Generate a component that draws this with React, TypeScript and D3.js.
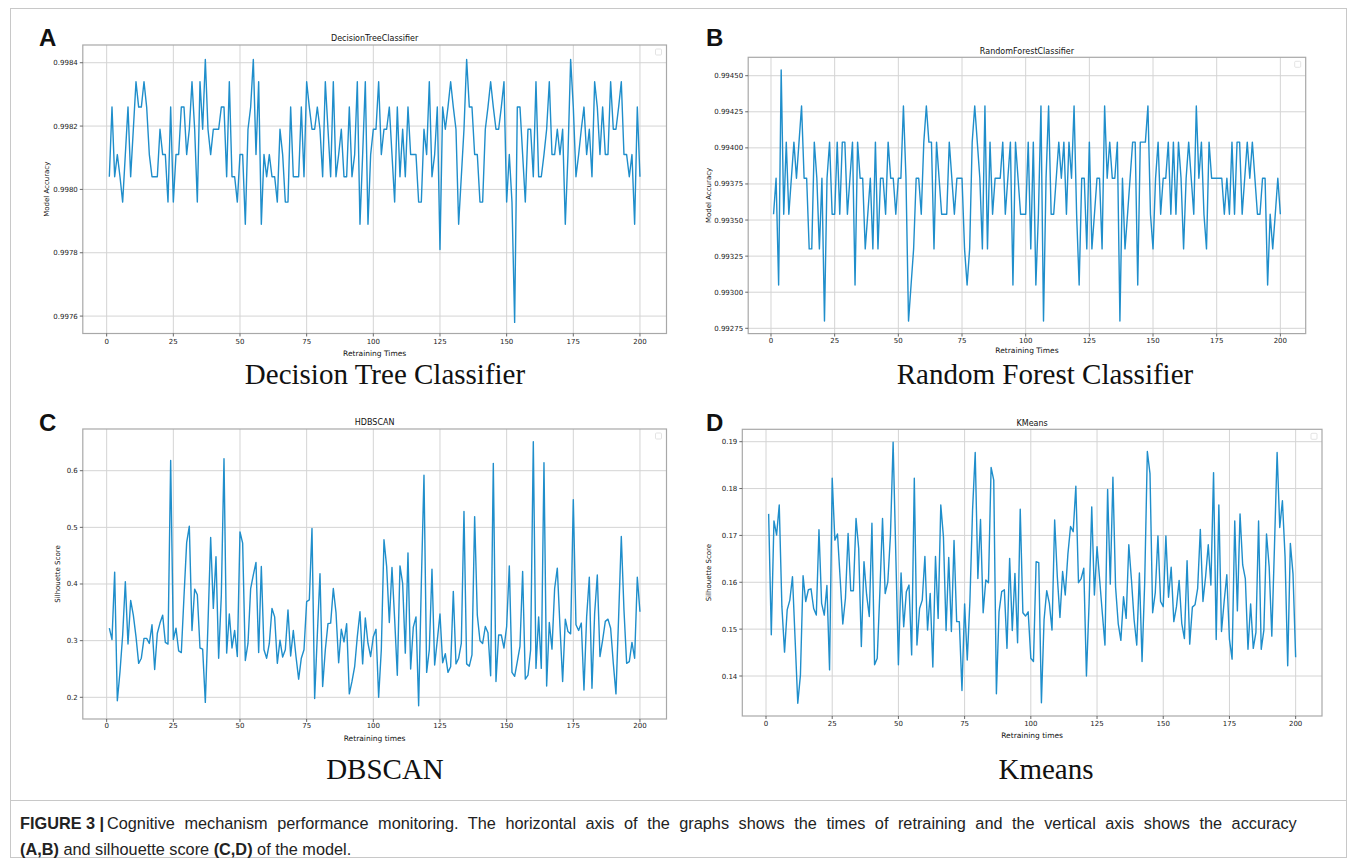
import * as d3 from "d3";

// retraining index (x) shared by all four panels
const retrainRuns = d3.range(1, 201);
const xTicks = [0, 25, 50, 75, 100, 125, 150, 175, 200];

// (A) DecisionTreeClassifier accuracy
const dtAccuracy = [
  0.99804, 0.99826, 0.99804, 0.99811, 0.99804, 0.99796, 0.99811, 0.99826, 0.99804, 0.99819,
  0.99834, 0.99826, 0.99826, 0.99834, 0.99826, 0.99811, 0.99804, 0.99804, 0.99804, 0.99819,
  0.99811, 0.99811, 0.99796, 0.99826, 0.99796, 0.99811, 0.99811, 0.99826, 0.99826, 0.99811,
  0.99819, 0.99834, 0.99819, 0.99796, 0.99834, 0.99819, 0.99841, 0.99819, 0.99811, 0.99819,
  0.99819, 0.99819, 0.99826, 0.99826, 0.99804, 0.99834, 0.99804, 0.99804, 0.99796, 0.99811,
  0.99811, 0.99789, 0.99819, 0.99826, 0.99841, 0.99811, 0.99834, 0.99789, 0.99811, 0.99804,
  0.99811, 0.99804, 0.99804, 0.99796, 0.99819, 0.99811, 0.99796, 0.99796, 0.99826, 0.99804,
  0.99804, 0.99804, 0.99826, 0.99804, 0.99834, 0.99826, 0.99819, 0.99819, 0.99826, 0.99819,
  0.99804, 0.99834, 0.99819, 0.99804, 0.99834, 0.99804, 0.99811, 0.99819, 0.99804, 0.99804,
  0.99826, 0.99804, 0.99811, 0.99834, 0.99789, 0.99811, 0.99834, 0.99789, 0.99811, 0.99819,
  0.99819, 0.99834, 0.99811, 0.99819, 0.99819, 0.99826, 0.99811, 0.99796, 0.99826, 0.99804,
  0.99819, 0.99804, 0.99826, 0.99811, 0.99811, 0.99811, 0.99796, 0.99796, 0.99819, 0.99811,
  0.99834, 0.99804, 0.99811, 0.99826, 0.99781, 0.99826, 0.99819, 0.99826, 0.99834, 0.99826,
  0.99819, 0.99789, 0.99804, 0.99819, 0.99841, 0.99826, 0.99826, 0.99811, 0.99811, 0.99796,
  0.99796, 0.99819, 0.99826, 0.99834, 0.99826, 0.99819, 0.99819, 0.99826, 0.99834, 0.99796,
  0.99811, 0.99796, 0.99758, 0.99826, 0.99826, 0.99811, 0.99796, 0.99819, 0.99819, 0.99804,
  0.99834, 0.99804, 0.99804, 0.99811, 0.99819, 0.99834, 0.99811, 0.99811, 0.99819, 0.99811,
  0.99819, 0.99789, 0.99811, 0.99841, 0.99826, 0.99804, 0.99811, 0.99819, 0.99826, 0.99811,
  0.99819, 0.99804, 0.99834, 0.99826, 0.99811, 0.99826, 0.99811, 0.99811, 0.99834, 0.99819,
  0.99819, 0.99826, 0.99834, 0.99811, 0.99811, 0.99804, 0.99811, 0.99789, 0.99826, 0.99804,
];

// (B) RandomForestClassifier accuracy
const rfAccuracy = [
  0.99354, 0.99379, 0.99305, 0.99454, 0.99354, 0.99404, 0.99354, 0.99379, 0.99404, 0.99379,
  0.99404, 0.99429, 0.99379, 0.99379, 0.9933, 0.9933, 0.99404, 0.99379, 0.9933, 0.99379,
  0.9928, 0.99379, 0.99404, 0.99354, 0.99354, 0.99404, 0.99354, 0.99404, 0.99404, 0.99354,
  0.99379, 0.99404, 0.99305, 0.99404, 0.99379, 0.99379, 0.9933, 0.99354, 0.99379, 0.9933,
  0.99404, 0.9933, 0.99379, 0.99379, 0.99354, 0.99404, 0.99379, 0.99379, 0.99354, 0.99379,
  0.99379, 0.99429, 0.99379, 0.9928, 0.99305, 0.9933, 0.99379, 0.99379, 0.99354, 0.99404,
  0.99429, 0.99404, 0.99404, 0.9933, 0.99404, 0.99379, 0.99354, 0.99354, 0.99354, 0.99404,
  0.99379, 0.99354, 0.99379, 0.99379, 0.99379, 0.9933, 0.99305, 0.9933, 0.99404, 0.99429,
  0.99404, 0.99379, 0.9933, 0.99429, 0.9933, 0.99404, 0.99354, 0.99379, 0.99379, 0.99379,
  0.99404, 0.99354, 0.99379, 0.99404, 0.99305, 0.99404, 0.99379, 0.99354, 0.99354, 0.99354,
  0.99404, 0.9933, 0.99404, 0.99305, 0.99354, 0.99429, 0.9928, 0.99379, 0.99429, 0.99354,
  0.99354, 0.99379, 0.99404, 0.99379, 0.99404, 0.99354, 0.99404, 0.99379, 0.99429, 0.99354,
  0.99305, 0.99379, 0.99379, 0.9933, 0.99404, 0.9933, 0.99354, 0.99379, 0.99379, 0.9933,
  0.99429, 0.99379, 0.99404, 0.99379, 0.99379, 0.99404, 0.9928, 0.99379, 0.9933, 0.99354,
  0.99379, 0.99404, 0.99404, 0.99305, 0.99404, 0.99404, 0.99404, 0.99429, 0.99354, 0.9933,
  0.99379, 0.99404, 0.99354, 0.99379, 0.99379, 0.99404, 0.99354, 0.99404, 0.99354, 0.99404,
  0.99379, 0.9933, 0.99379, 0.99404, 0.99379, 0.99354, 0.99429, 0.99379, 0.99404, 0.99354,
  0.9933, 0.99404, 0.99379, 0.99379, 0.99379, 0.99379, 0.99379, 0.99354, 0.99379, 0.99354,
  0.99404, 0.99354, 0.99404, 0.99404, 0.99354, 0.99379, 0.99404, 0.99379, 0.99404, 0.99379,
  0.99354, 0.99354, 0.99379, 0.99379, 0.99305, 0.99354, 0.9933, 0.99354, 0.99379, 0.99354,
];

// (C) HDBSCAN silhouette score
const hdbscanScore = [
  0.322, 0.302, 0.421, 0.194, 0.245, 0.31, 0.404, 0.294, 0.371, 0.345,
  0.307, 0.26, 0.269, 0.304, 0.304, 0.295, 0.328, 0.249, 0.313, 0.331,
  0.345, 0.297, 0.294, 0.618, 0.302, 0.322, 0.282, 0.279, 0.378, 0.473,
  0.502, 0.318, 0.391, 0.381, 0.287, 0.285, 0.191, 0.33, 0.482, 0.357,
  0.448, 0.269, 0.38, 0.621, 0.278, 0.347, 0.287, 0.318, 0.272, 0.492,
  0.472, 0.265, 0.295, 0.392, 0.416, 0.438, 0.279, 0.431, 0.284, 0.269,
  0.295, 0.357, 0.342, 0.26, 0.301, 0.271, 0.284, 0.354, 0.273, 0.318,
  0.272, 0.232, 0.269, 0.284, 0.369, 0.372, 0.498, 0.198, 0.31, 0.418,
  0.219, 0.284, 0.33, 0.331, 0.392, 0.35, 0.261, 0.32, 0.298, 0.33,
  0.206, 0.228, 0.254, 0.307, 0.351, 0.259, 0.34, 0.295, 0.272, 0.307,
  0.32, 0.2, 0.284, 0.478, 0.431, 0.332, 0.429, 0.338, 0.239, 0.432,
  0.401, 0.278, 0.455, 0.25, 0.324, 0.342, 0.185, 0.4, 0.592, 0.244,
  0.284, 0.426, 0.257, 0.301, 0.347, 0.261, 0.277, 0.244, 0.254, 0.387,
  0.259, 0.269, 0.295, 0.528, 0.259, 0.255, 0.275, 0.519, 0.345, 0.3,
  0.295, 0.325, 0.314, 0.238, 0.613, 0.228, 0.31, 0.31, 0.287, 0.325,
  0.432, 0.244, 0.237, 0.263, 0.29, 0.422, 0.232, 0.239, 0.284, 0.651,
  0.251, 0.342, 0.251, 0.614, 0.22, 0.332, 0.285, 0.392, 0.428, 0.325,
  0.228, 0.338, 0.316, 0.312, 0.549, 0.328, 0.318, 0.331, 0.213, 0.342,
  0.412, 0.216, 0.348, 0.416, 0.272, 0.301, 0.334, 0.338, 0.322, 0.26,
  0.206, 0.342, 0.484, 0.354, 0.26, 0.263, 0.297, 0.269, 0.412, 0.351,
];

// (D) KMeans silhouette score
const kmeansScore = [
  0.1746, 0.1488, 0.1731, 0.1701, 0.1765, 0.1548, 0.1451, 0.1541, 0.1562, 0.1612,
  0.1477, 0.1342, 0.1402, 0.1614, 0.1559, 0.1584, 0.1586, 0.1544, 0.153, 0.1712,
  0.1555, 0.153, 0.1593, 0.1413, 0.1822, 0.169, 0.1703, 0.1608, 0.1511, 0.1566,
  0.1704, 0.1582, 0.1582, 0.1736, 0.1672, 0.1463, 0.1644, 0.1573, 0.1527, 0.1726,
  0.1424, 0.1438, 0.158, 0.1736, 0.1576, 0.1601, 0.1701, 0.1899, 0.1662, 0.1424,
  0.162, 0.1505, 0.158, 0.1594, 0.1445, 0.1822, 0.1466, 0.1544, 0.1562, 0.1655,
  0.1498, 0.1576, 0.1419, 0.1655, 0.1523, 0.1765, 0.1697, 0.1497, 0.1653, 0.1495,
  0.1689, 0.1516, 0.1516, 0.1369, 0.1554, 0.1434, 0.156, 0.1754, 0.1877, 0.1608,
  0.1734, 0.1535, 0.1605, 0.1599, 0.1845, 0.1818, 0.1362, 0.1537, 0.158, 0.1584,
  0.1459, 0.1651, 0.1497, 0.1619, 0.1471, 0.1756, 0.1535, 0.1528, 0.1537, 0.1438,
  0.1431, 0.1644, 0.1642, 0.1343, 0.152, 0.1582, 0.1555, 0.1498, 0.1733, 0.1612,
  0.1525, 0.1623, 0.1573, 0.166, 0.1719, 0.1708, 0.1805, 0.1599, 0.1608, 0.163,
  0.14, 0.1555, 0.1761, 0.1573, 0.1676, 0.1605, 0.1534, 0.1466, 0.1798, 0.1596,
  0.1824, 0.159, 0.1512, 0.1476, 0.1569, 0.1523, 0.168, 0.1605, 0.152, 0.1466,
  0.162, 0.1431, 0.16, 0.1879, 0.1832, 0.1535, 0.1578, 0.1699, 0.1559, 0.1548,
  0.1699, 0.1568, 0.1632, 0.1516, 0.1548, 0.1604, 0.1512, 0.148, 0.1646, 0.1468,
  0.1547, 0.1552, 0.1587, 0.1713, 0.1559, 0.1612, 0.168, 0.1594, 0.1834, 0.1478,
  0.1765, 0.1495, 0.1559, 0.1616, 0.1478, 0.1436, 0.1731, 0.1539, 0.1746, 0.1637,
  0.1608, 0.1457, 0.1554, 0.1459, 0.1493, 0.1731, 0.1457, 0.1498, 0.1703, 0.1633,
  0.1485, 0.1676, 0.1877, 0.1717, 0.1774, 0.1655, 0.1422, 0.1683, 0.1618, 0.144,
];

const dtTicks = [0.9976, 0.9978, 0.998, 0.9982, 0.9984];
const rfTicks = [0.99275, 0.993, 0.99325, 0.9935, 0.99375, 0.994, 0.99425, 0.9945];
const hdbTicks = [0.2, 0.3, 0.4, 0.5, 0.6];
const kmTicks = [0.14, 0.15, 0.16, 0.17, 0.18, 0.19];

const LINE = "#1f8ecb";
const GRID = "#d4d4d4";
const FRAME = "#a8a8a8";
const MPL = "'DejaVu Sans', sans-serif";
const SANS = "'Liberation Sans', Arial, sans-serif";

function Panel({ values, box, yDomain, yTicks, yFmt, title, titleY, xLabel, xLabelY, tickY, yLabel, yLabelX, letter, letterX, letterY, caption, captionX, captionY }) {
  const x = d3.scaleLinear().domain([-8.95, 209.95]).range([box.l, box.r]);
  const y = d3.scaleLinear().domain(yDomain).range([box.b, box.t]);
  const line = d3
    .line()
    .x((d) => x(d[0]))
    .y((d) => y(d[1]));
  const pts = retrainRuns.map((r, i) => [r, values[i]]);
  const fmt = d3.format(yFmt);
  const midY = (box.t + box.b) / 2;

  return (
    <g>
      <text x={letterX} y={letterY} fontFamily={SANS} fontWeight="bold" fontSize={24} fill="#111">
        {letter}
      </text>
      <rect x={box.l} y={box.t} width={box.r - box.l} height={box.b - box.t} fill="#fff" />
      {xTicks.map((t) => (
        <line key={"gx" + t} x1={x(t)} x2={x(t)} y1={box.t} y2={box.b} stroke={GRID} strokeWidth={1} />
      ))}
      {yTicks.map((t) => (
        <line key={"gy" + t} x1={box.l} x2={box.r} y1={y(t)} y2={y(t)} stroke={GRID} strokeWidth={1} />
      ))}
      <path d={line(pts)} fill="none" stroke={LINE} strokeWidth={1.4} strokeLinejoin="round" />
      <rect x={box.l} y={box.t} width={box.r - box.l} height={box.b - box.t} fill="none" stroke={FRAME} strokeWidth={1.2} />
      <rect x={box.r - 11} y={box.t + 4} width={6} height={6} rx={1} fill="#fff" stroke="#dcdcdc" strokeWidth={0.8} />
      {xTicks.map((t) => (
        <g key={"tx" + t}>
          <line x1={x(t)} x2={x(t)} y1={box.b} y2={box.b + 3} stroke="#444" strokeWidth={0.8} />
          <text x={x(t)} y={tickY} textAnchor="middle" fontFamily={MPL} fontSize={7} fill="#222">
            {t}
          </text>
        </g>
      ))}
      {yTicks.map((t) => (
        <g key={"ty" + t}>
          <line x1={box.l - 3} x2={box.l} y1={y(t)} y2={y(t)} stroke="#444" strokeWidth={0.8} />
          <text x={box.l - 5} y={y(t) + 2.5} textAnchor="end" fontFamily={MPL} fontSize={7} fill="#222">
            {fmt(t)}
          </text>
        </g>
      ))}
      <text x={(box.l + box.r) / 2} y={titleY} textAnchor="middle" fontFamily={MPL} fontSize={8} fill="#111">
        {title}
      </text>
      <text x={(box.l + box.r) / 2} y={xLabelY} textAnchor="middle" fontFamily={MPL} fontSize={7.5} fill="#111">
        {xLabel}
      </text>
      <text transform={`translate(${yLabelX},${midY}) rotate(-90)`} textAnchor="middle" fontFamily={MPL} fontSize={7} fill="#111">
        {yLabel}
      </text>
      <text x={captionX} y={captionY} textAnchor="middle" fontFamily="'Liberation Serif', 'Times New Roman', serif" fontSize={29} fill="#111">
        {caption}
      </text>
    </g>
  );
}

export default function App() {
  return (
    <div style={{ position: "absolute", left: 0, top: 0 }}>
      <svg width={1357} height={866} style={{ display: "block", background: "#fff" }}>
        <rect x={10.5} y={8.5} width={1336} height={849} fill="none" stroke="#c8c8c8" strokeWidth={1} />
        <Panel
          values={dtAccuracy}
          box={{ l: 82.8, t: 45, r: 666.5, b: 333.5 }}
          yDomain={[0.997545, 0.998456]}
          yTicks={dtTicks}
          yFmt=".4f"
          title="DecisionTreeClassifier"
          titleY={41}
          xLabel="Retraining Times"
          xLabelY={356}
          tickY={344}
          yLabel="Model Accuracy"
          yLabelX={49}
          letter="A"
          letterX={39}
          letterY={46}
          caption="Decision Tree Classifier"
          captionX={385}
          captionY={384}
        />
        <Panel
          values={rfAccuracy}
          box={{ l: 748.2, t: 57.3, r: 1305.7, b: 333.6 }}
          yDomain={[0.9927133, 0.9946275]}
          yTicks={rfTicks}
          yFmt=".5f"
          title="RandomForestClassifier"
          titleY={54}
          xLabel="Retraining Times"
          xLabelY={353}
          tickY={343}
          yLabel="Model Accuracy"
          yLabelX={711}
          letter="B"
          letterX={706}
          letterY={46}
          caption="Random Forest Classifier"
          captionX={1045}
          captionY={384}
        />
        <Panel
          values={hdbscanScore}
          box={{ l: 82.8, t: 429, r: 666.5, b: 719 }}
          yDomain={[0.1617, 0.6736]}
          yTicks={hdbTicks}
          yFmt=".1f"
          title="HDBSCAN"
          titleY={425}
          xLabel="Retraining times"
          xLabelY={741}
          tickY={728}
          yLabel="Silhouette Score"
          yLabelX={60}
          letter="C"
          letterX={39}
          letterY={431}
          caption="DBSCAN"
          captionX={385}
          captionY={779}
        />
        <Panel
          values={kmeansScore}
          box={{ l: 742.3, t: 429.3, r: 1322, b: 716 }}
          yDomain={[0.131464, 0.192646]}
          yTicks={kmTicks}
          yFmt=".2f"
          title="KMeans"
          titleY={426}
          xLabel="Retraining times"
          xLabelY={738}
          tickY={726}
          yLabel="Silhouette Score"
          yLabelX={711}
          letter="D"
          letterX={706}
          letterY={431}
          caption="Kmeans"
          captionX={1046}
          captionY={779}
        />
        <line x1={10} x2={1347} y1={800.5} y2={800.5} stroke="#c8c8c8" strokeWidth={1} />
        {/* caption: first line is justified in the source layout */}
        <text x={20} y={829} fontFamily={SANS} fontSize={16.3} fill="#222" fontWeight="bold">
          FIGURE 3 |
        </text>
        <text x={107} y={829} fontFamily={SANS} fontSize={16.3} fill="#222" wordSpacing={5}>
          Cognitive mechanism performance monitoring. The horizontal axis of the graphs shows the times of retraining and the vertical axis shows the accuracy
        </text>
        <text x={20} y={855} fontFamily={SANS} fontSize={16.3} fill="#222">
          <tspan fontWeight="bold">(A,B)</tspan> and silhouette score <tspan fontWeight="bold">(C,D)</tspan> of the model.
        </text>
      </svg>
    </div>
  );
}
